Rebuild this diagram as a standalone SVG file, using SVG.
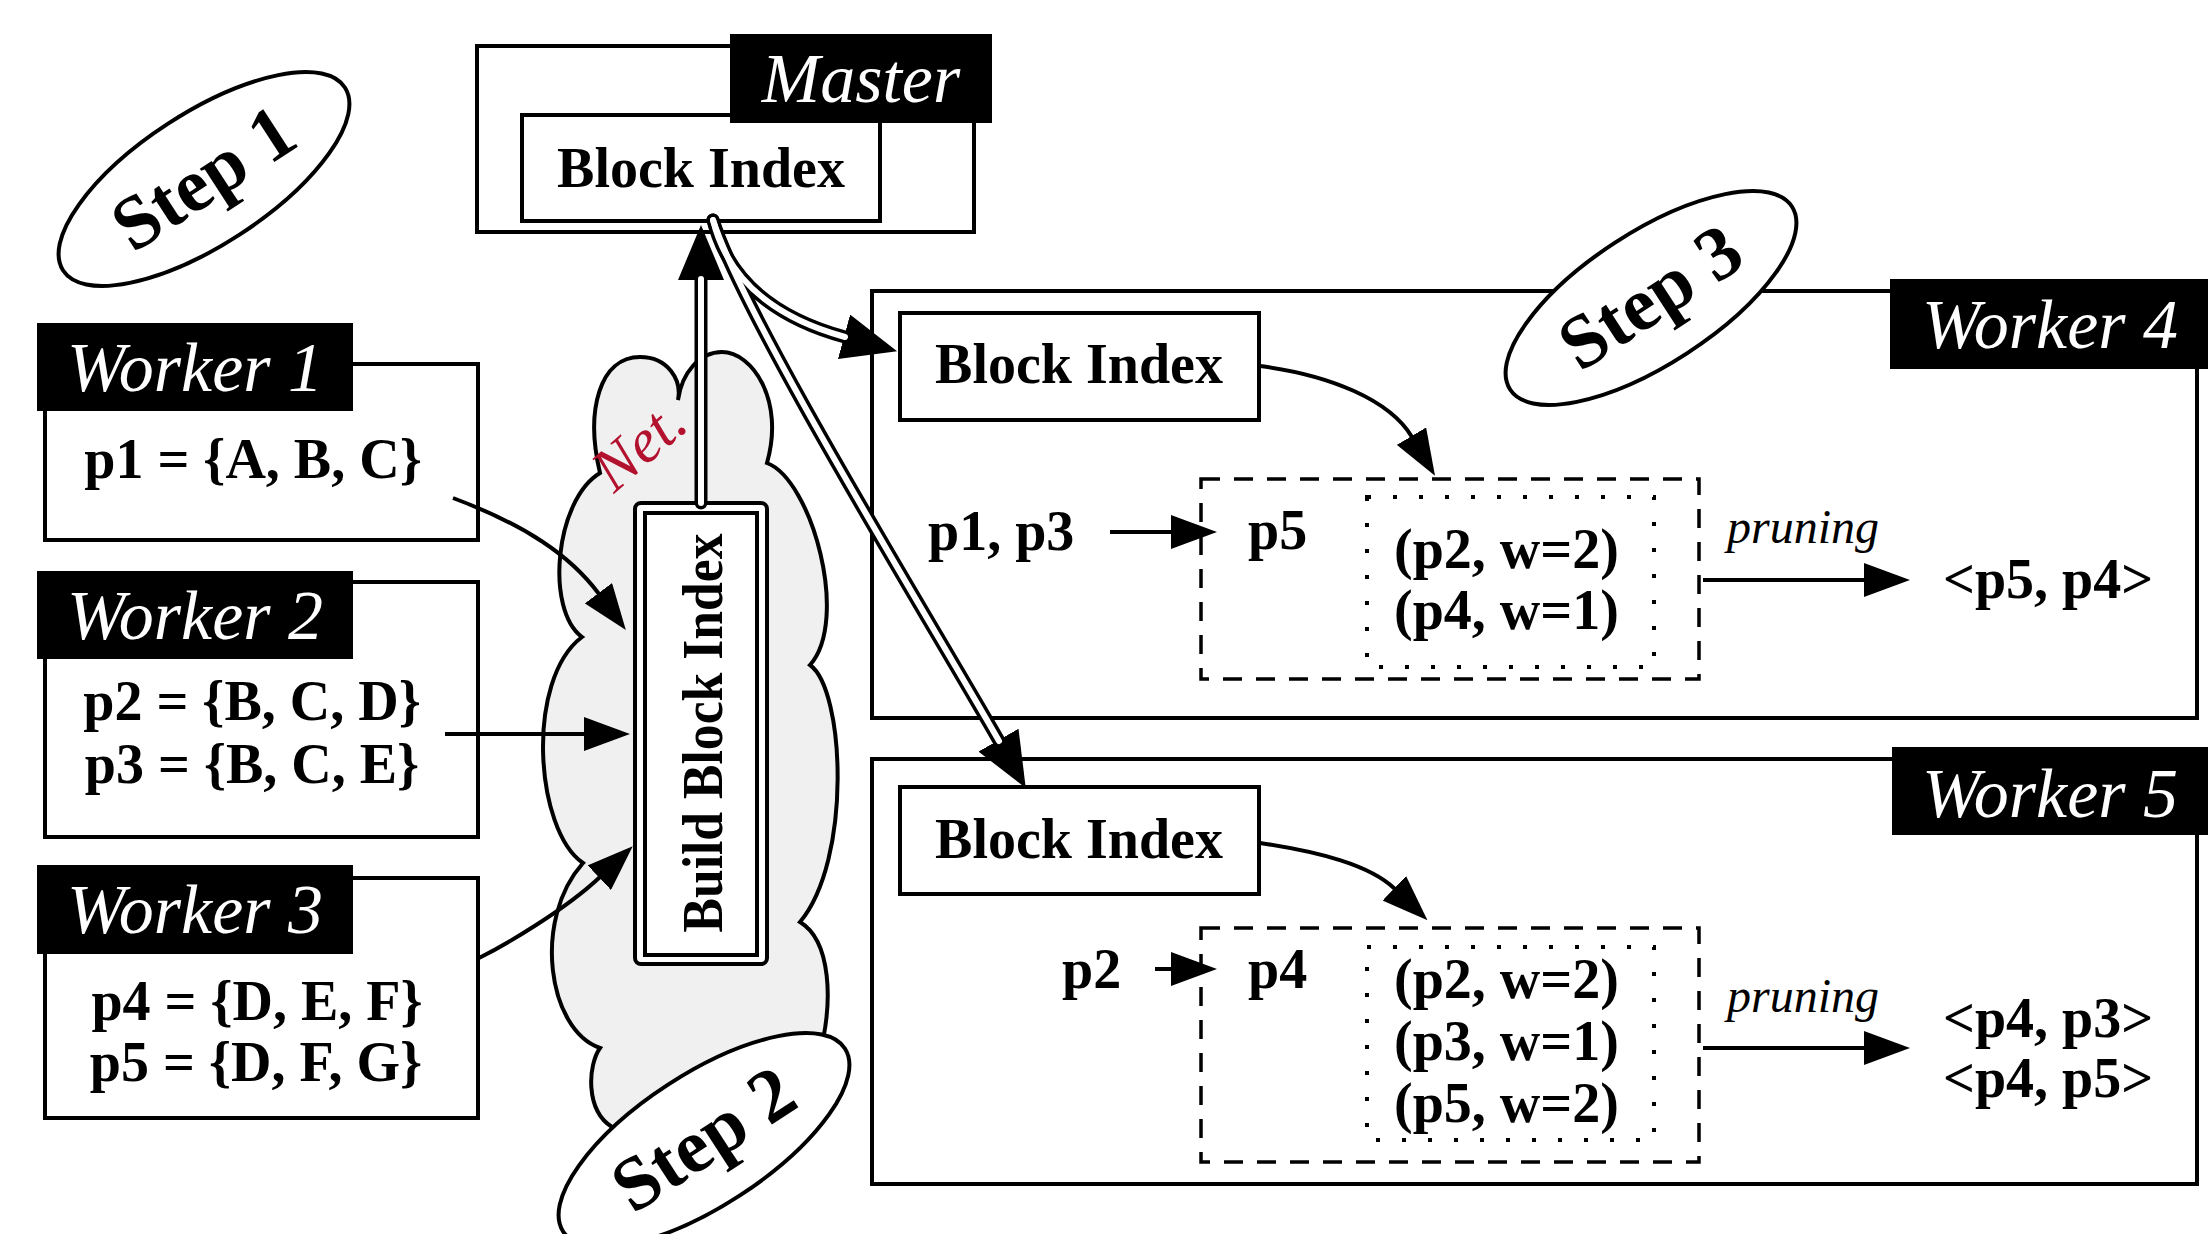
<svg xmlns="http://www.w3.org/2000/svg" width="2208" height="1234" viewBox="0 0 2208 1234">
<defs>
<style>
.box{fill:#fff;stroke:#000;stroke-width:4}
.lblbox{fill:#000;stroke:#000;stroke-width:2}
.lbl{font-family:"Liberation Serif",serif;font-style:italic;font-size:70px;fill:#fff;text-anchor:middle}
.t{font-family:"Liberation Serif",serif;font-weight:bold;font-size:56px;fill:#000}
.c{text-anchor:middle}
.it{font-family:"Liberation Serif",serif;font-style:italic;font-size:48px;fill:#000}
.step{fill:#fff;stroke:#000;stroke-width:4}
.steptxt{font-family:"Liberation Serif",serif;font-weight:bold;font-size:76px;fill:#000;text-anchor:middle}
.dash{fill:none;stroke:#000;stroke-width:3.5;stroke-dasharray:19 14}
.dot{fill:none;stroke:#000;stroke-width:4;stroke-dasharray:4 22}
.ln{fill:none;stroke:#000;stroke-width:4}
.dbl{fill:none;stroke:#000;stroke-width:13;stroke-linecap:round}
.dblw{fill:none;stroke:#fff;stroke-width:6;stroke-linecap:round}
</style>
<marker id="a1" markerUnits="userSpaceOnUse" markerWidth="46" markerHeight="34" viewBox="0 0 46 34" refX="1" refY="17" orient="auto"><path d="M0,0 L46,17 L0,34 Z" fill="#000"/></marker>
<marker id="a2" markerUnits="userSpaceOnUse" markerWidth="55" markerHeight="46" viewBox="0 0 55 46" refX="1" refY="23" orient="auto"><path d="M0,0 L55,23 L0,46 Z" fill="#000"/></marker>
</defs>
<rect width="2208" height="1234" fill="#fff"/>

<g id="cloud">
<path d="M600,473 C585,410 600,357 640,357 C668,357 682,380 678,400 C682,372 700,352 722,352 C752,352 785,400 767,463 C812,480 850,620 810,665 C845,690 852,860 800,922 C830,940 835,1000 818,1060 C800,1120 700,1160 612,1127 C585,1110 588,1065 600,1048 C548,1030 532,920 583,863 C535,830 525,680 582,637 C545,610 555,500 600,473 Z" fill="#f0f0f0" stroke="#000" stroke-width="4"/>
<text x="614" y="494" transform="rotate(-41 614 494)" font-family="'Liberation Serif',serif" font-style="italic" font-size="62" fill="#b3122f">Net.</text>
</g>

<g id="build">
<rect x="635" y="503" width="132" height="461" rx="6" class="box" stroke-width="3.5"/>
<rect x="645" y="513" width="112" height="442" class="box" stroke-width="3.5"/>
<text x="722" y="733" transform="rotate(-90 722 733)" class="t c" font-size="52" textLength="399" lengthAdjust="spacingAndGlyphs">Build Block Index</text>
</g>

<g id="master">
<rect x="477" y="46" width="497" height="186" class="box"/>
<rect x="522" y="115" width="358" height="106" class="box"/>
<text x="701" y="187" class="t c" font-size="57">Block Index</text>
<rect x="731" y="35" width="260" height="87" class="lblbox"/>
<text x="861" y="102" class="lbl">Master</text>
</g>

<g id="worker1">
<rect x="45" y="364" width="433" height="176" class="box"/>
<rect x="38" y="324" width="314" height="86" class="lblbox"/>
<text x="195" y="391" class="lbl">Worker 1</text>
<text x="253" y="478" class="t c">p1 = {A, B, C}</text>
</g>

<g id="worker2">
<rect x="45" y="582" width="433" height="255" class="box"/>
<rect x="38" y="572" width="314" height="86" class="lblbox"/>
<text x="195" y="639" class="lbl">Worker 2</text>
<text x="252" y="720" class="t c">p2 = {B, C, D}</text>
<text x="252" y="783" class="t c">p3 = {B, C, E}</text>
</g>

<g id="worker3">
<rect x="45" y="878" width="433" height="240" class="box"/>
<rect x="38" y="866" width="314" height="87" class="lblbox"/>
<text x="195" y="933" class="lbl">Worker 3</text>
<text x="257" y="1020" class="t c">p4 = {D, E, F}</text>
<text x="256" y="1081" class="t c">p5 = {D, F, G}</text>
</g>

<g id="worker4">
<rect x="872" y="291" width="1325" height="427" class="box"/>
<rect x="1891" y="280" width="317" height="88" class="lblbox"/>
<text x="2050" y="348" class="lbl">Worker 4</text>
<rect x="900" y="313" width="359" height="107" class="box"/>
<text x="1079" y="383" class="t c" font-size="57">Block Index</text>
<text x="928" y="550" class="t" font-size="57">p1, p3</text>
<text x="1248" y="549" class="t" font-size="57">p5</text>
<rect x="1201" y="479" width="498" height="200" class="dash"/>
<rect x="1367" y="497" width="287" height="170" class="dot"/>
<text x="1394" y="568" class="t" font-size="57">(p2, w=2)</text>
<text x="1394" y="629" class="t" font-size="57">(p4, w=1)</text>
<text x="1727" y="543" class="it">pruning</text>
<text x="1943" y="598" class="t" font-size="57">&lt;p5, p4&gt;</text>
</g>

<g id="worker5">
<rect x="872" y="759" width="1325" height="425" class="box"/>
<rect x="1893" y="748" width="315" height="86" class="lblbox"/>
<text x="2050" y="817" class="lbl">Worker 5</text>
<rect x="900" y="787" width="359" height="107" class="box"/>
<text x="1079" y="858" class="t c" font-size="57">Block Index</text>
<text x="1062" y="988" class="t" font-size="57">p2</text>
<text x="1248" y="988" class="t" font-size="57">p4</text>
<rect x="1201" y="928" width="498" height="234" class="dash"/>
<rect x="1367" y="947" width="287" height="193" class="dot"/>
<text x="1394" y="998" class="t" font-size="57">(p2, w=2)</text>
<text x="1394" y="1060" class="t" font-size="57">(p3, w=1)</text>
<text x="1394" y="1122" class="t" font-size="57">(p5, w=2)</text>
<text x="1727" y="1012" class="it">pruning</text>
<text x="1943" y="1037" class="t" font-size="57">&lt;p4, p3&gt;</text>
<text x="1943" y="1097" class="t" font-size="57">&lt;p4, p5&gt;</text>
</g>

<g id="connectors">
<path d="M701,503 V279" class="dbl" stroke-linecap="butt" marker-end="url(#a2)"/>
<path d="M701,503 V279" class="dblw" stroke-linecap="butt"/>
<path d="M713,220 C730,290 790,322 845,337" class="dbl" marker-end="url(#a2)"/>
<path d="M713,220 C745,320 930,620 999,741" class="dbl" marker-end="url(#a2)"/>
<path d="M713,220 C730,290 790,322 845,337" class="dblw" stroke-linecap="butt"/>
<path d="M713,220 C745,320 930,620 999,741" class="dblw" stroke-linecap="butt"/>
<path d="M453,498 C525,525 570,555 599,594" class="ln" marker-end="url(#a1)"/>
<path d="M445,734 H585" class="ln" marker-end="url(#a1)"/>
<path d="M479,958 C505,945 565,910 600,877" class="ln" marker-end="url(#a1)"/>
<path d="M1260,366 C1330,375 1390,400 1412,437" class="ln" marker-end="url(#a1)"/>
<path d="M1260,843 C1320,852 1370,865 1395,889" class="ln" marker-end="url(#a1)"/>
<path d="M1110,532 H1172" class="ln" marker-end="url(#a1)"/>
<path d="M1155,969 H1172" class="ln" marker-end="url(#a1)"/>
<path d="M1703,580 H1865" class="ln" marker-end="url(#a1)"/>
<path d="M1703,1048 H1865" class="ln" marker-end="url(#a1)"/>
</g>

<g id="step1">
<ellipse cx="204" cy="179" rx="168" ry="66" transform="rotate(-33 204 179)" class="step"/>
<text x="204" y="203" transform="rotate(-33 204 179)" class="steptxt">Step 1</text>
</g>
<g id="step2">
<ellipse cx="704" cy="1140" rx="168" ry="66" transform="rotate(-33 704 1140)" class="step"/>
<text x="704" y="1164" transform="rotate(-33 704 1140)" class="steptxt">Step 2</text>
</g>
<g id="step3">
<ellipse cx="1651" cy="298" rx="168" ry="66" transform="rotate(-33 1651 298)" class="step"/>
<text x="1651" y="322" transform="rotate(-33 1651 298)" class="steptxt">Step 3</text>
</g>
</svg>
